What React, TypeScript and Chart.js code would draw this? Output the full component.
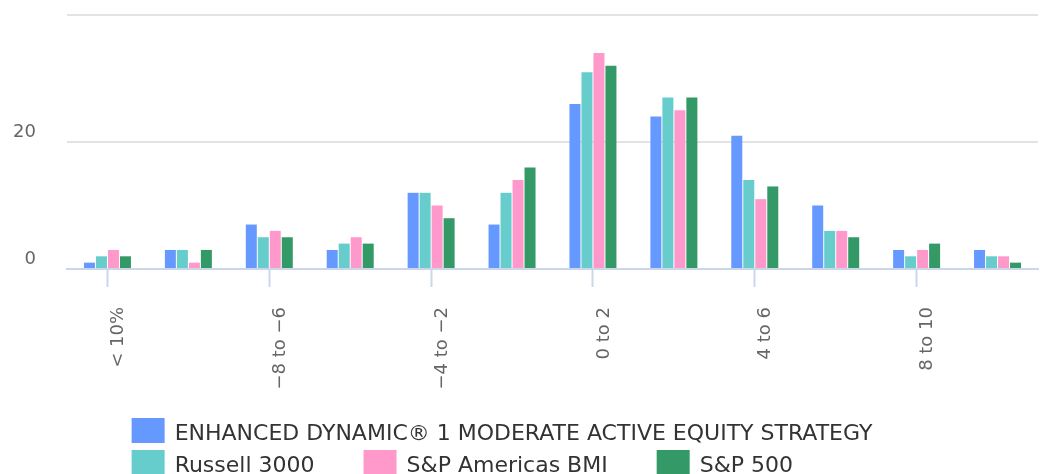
import React, { useEffect, useRef } from "react";
import { Chart, registerables } from "chart.js";

Chart.register(...registerables);

const categories = [
  "< 10%",
  "−10 to −8",
  "−8 to −6",
  "−6 to −4",
  "−4 to −2",
  "−2 to 0",
  "0 to 2",
  "2 to 4",
  "4 to 6",
  "6 to 8",
  "8 to 10",
  "> 10%",
];

const strategy = [1, 3, 7, 3, 12, 7, 26, 24, 21, 10, 3, 3];
const russell3000 = [2, 3, 5, 4, 12, 12, 31, 27, 14, 6, 2, 2];
const spAmericasBmi = [3, 1, 6, 5, 10, 14, 34, 25, 11, 6, 3, 2];
const sp500 = [2, 3, 5, 4, 8, 16, 32, 27, 13, 5, 4, 1];

const seriesNames = [
  "ENHANCED DYNAMIC® 1 MODERATE ACTIVE EQUITY STRATEGY",
  "Russell 3000",
  "S&P Americas BMI",
  "S&P 500",
];
const seriesColors = ["#6699FF", "#66CCCC", "#FF99CC", "#339966"];

const yMin = 0;
const yMax = 40;
const yStep = 20;
const hiddenYTicks = [40];

const FONT = '"DejaVu Sans", Verdana, sans-serif';

const blockLegend = {
  id: "blockLegend",
  afterDraw(chart: any) {
    const ctx = chart.ctx as CanvasRenderingContext2D;
    ctx.save();
    ctx.font = `22px ${FONT}`;
    const boxW = 33;
    const boxH = 25;
    const gap = 10;
    const itemGap = 49;
    const rowH = 32;
    const maxW = 900;
    const items = chart.data.datasets.map((ds: any) => ({
      text: ds.label as string,
      color: ds.backgroundColor as string,
      w: boxW + gap + ctx.measureText(ds.label).width,
    }));
    const rows: { items: any[]; w: number }[] = [];
    let cur: any[] = [];
    let curW = 0;
    items.forEach((it: any) => {
      const add = cur.length ? itemGap + it.w : it.w;
      if (cur.length && curW + add > maxW) {
        rows.push({ items: cur, w: curW });
        cur = [it];
        curW = it.w;
      } else {
        cur.push(it);
        curW += add;
      }
    });
    if (cur.length) rows.push({ items: cur, w: curW });
    const blockW = Math.max(...rows.map((r) => r.w));
    const left = (chart.width - blockW) / 2 - 18;
    const top0 = chart.height - 56;
    ctx.textAlign = "left";
    ctx.textBaseline = "alphabetic";
    rows.forEach((r, ri) => {
      let x = left;
      const y = top0 + ri * rowH;
      r.items.forEach((it: any) => {
        ctx.fillStyle = it.color;
        ctx.fillRect(x, y, boxW, boxH);
        ctx.fillStyle = "#333333";
        ctx.fillText(it.text, x + boxW + gap, y + 22);
        x += it.w + itemGap;
      });
    });
    ctx.restore();
  },
};

export default function App() {
  const canvasRef = useRef<HTMLCanvasElement | null>(null);

  useEffect(() => {
    if (!canvasRef.current) return;
    const seriesData = [strategy, russell3000, spAmericasBmi, sp500];
    const chart = new Chart(canvasRef.current, {
      type: "bar",
      data: {
        labels: categories,
        datasets: seriesData.map((d, i) => ({
          label: seriesNames[i],
          data: d,
          backgroundColor: seriesColors[i],
          borderWidth: 0,
          categoryPercentage: 0.593,
          barPercentage: 0.917,
        })),
      },
      options: {
        responsive: false,
        animation: false,
        layout: { padding: { left: 13, right: 2, top: 15, bottom: 75 } },
        plugins: {
          legend: { display: false },
          tooltip: { enabled: false },
        },
        scales: {
          x: {
            afterFit: (scale: any) => {
              scale.height = 130;
              scale.paddingLeft = 0;
              scale.paddingRight = 0;
              scale.paddingTop = 0;
              scale.paddingBottom = 0;
            },
            border: { display: true, color: "#ccd6eb", width: 2 },
            grid: {
              offset: false,
              drawOnChartArea: false,
              drawTicks: true,
              tickLength: 18,
              tickWidth: 2,
              tickColor: (ctx: any) => (ctx.index % 2 === 0 ? "#ccd6eb" : "rgba(0,0,0,0)"),
            },
            ticks: {
              autoSkip: false,
              minRotation: 90,
              maxRotation: 90,
              padding: 20,
              labelOffset: 11,
              color: "#666666",
              font: { family: FONT, size: 18 },
              callback: (_v: any, i: number) => (i % 2 === 0 ? categories[i] : ""),
            },
          },
          y: {
            min: yMin,
            max: yMax,
            afterFit: (scale: any) => {
              scale.width = 54;
              scale.paddingTop = 0;
              scale.paddingBottom = 0;
              scale.paddingLeft = 0;
              scale.paddingRight = 0;
            },
            border: { display: false },
            grid: {
              drawTicks: false,
              lineWidth: 2,
              color: (ctx: any) =>
                ctx.tick && ctx.tick.value === 0 ? "rgba(0,0,0,0)" : "#e3e3e3",
            },
            ticks: {
              stepSize: yStep,
              padding: 31,
              labelOffset: -10,
              color: "#666666",
              font: { family: FONT, size: 18 },
              callback: (v: any) => (hiddenYTicks.includes(Number(v)) ? "" : String(v)),
            },
          },
        },
      },
      plugins: [blockLegend],
    });
    return () => chart.destroy();
  }, []);

  return (
    <div style={{ position: "absolute", left: 0, top: 0, width: 1040, height: 474 }}>
      <canvas ref={canvasRef} width={1040} height={474} />
    </div>
  );
}
